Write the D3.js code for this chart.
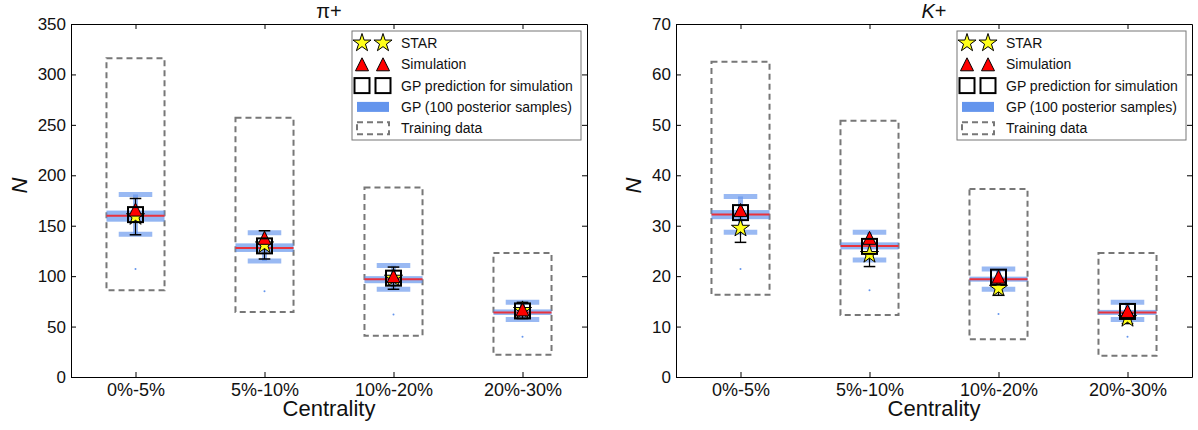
<!DOCTYPE html>
<html>
<head>
<meta charset="utf-8">
<script src="https://cdn.jsdelivr.net/npm/d3@7"></script>
<style>
  html, body { margin: 0; padding: 0; background: #fff; }
  svg { display: block; font-family: "Liberation Sans", Arial, sans-serif; }
</style>
</head>
<body>
<svg id="chart" width="1198" height="430"></svg>
<script>
// Centrality classes shared by both panels
const categories = ["0%-5%", "5%-10%", "10%-20%", "20%-30%"];

// pi+ yields
const piStar      = [159, 131, 98, 66];
const piStarErr   = [18, 14, 11, 8];
const piSim       = [166, 138, 100, 67];
const piPred      = [161, 130, 98, 65.5];
const piGPMean    = [160, 128, 97, 64];
const piGPBandLo  = [154, 124, 93, 61.5];
const piGPBandHi  = [165, 132.5, 100, 67];
const piGPLo      = [141.5, 115, 87, 57];
const piGPHi      = [181, 143, 110.5, 74];
const piTrainLo   = [86, 64.5, 41, 22];
const piTrainHi   = [316, 257, 188, 123];
const piDot       = [107, 85, 62, 40];
const piTicks     = [0, 50, 100, 150, 200, 250, 300, 350];

// K+ yields
const kStar       = [29.5, 24.3, 17.6, 11.6];
const kStarErr    = [2.8, 2.4, 1.4, 1.0];
const kSim        = [33.1, 27.6, 19.9, 13.1];
const kPred       = [32.6, 25.9, 19.8, 13.0];
const kGPMean     = [32.2, 26.0, 19.4, 12.8];
const kGPBandLo   = [31.3, 25.3, 18.9, 12.3];
const kGPBandHi   = [33.1, 26.7, 19.9, 13.3];
const kGPLo       = [28.7, 23.2, 17.4, 11.4];
const kGPHi       = [35.8, 28.7, 21.4, 14.8];
const kTrainLo    = [16.3, 12.3, 7.5, 4.2];
const kTrainHi    = [62.5, 50.8, 37.3, 24.6];
const kDot        = [21.4, 17.2, 12.5, 8.0];
const kTicks      = [0, 10, 20, 30, 40, 50, 60, 70];

const legendLabels = ["STAR", "Simulation", "GP prediction for simulation",
                      "GP (100 posterior samples)", "Training data"];

const BLUE = "#6495ED";
const RED = "#e8323c";
const svg = d3.select("#chart");

function starPath(r) {
  const inner = r * 0.381966;
  const pts = [];
  for (let i = 0; i < 10; i++) {
    const rad = i % 2 === 0 ? r : inner;
    const a = -Math.PI / 2 + i * Math.PI / 5;
    pts.push([rad * Math.cos(a), rad * Math.sin(a)]);
  }
  return "M" + pts.map(p => p[0].toFixed(2) + "," + p[1].toFixed(2)).join("L") + "Z";
}
function triPath(s) {
  return `M0,${-s}L${-s},${s}L${s},${s}Z`;
}

function drawStar(g, x, y) {
  g.append("path").attr("d", starPath(9.5)).attr("transform", `translate(${x},${y})`)
    .attr("fill", "#ffff1a").attr("stroke", "#000").attr("stroke-width", 1);
}
function drawTri(g, x, y) {
  g.append("path").attr("d", triPath(6.5)).attr("transform", `translate(${x},${y})`)
    .attr("fill", "#ff0000").attr("stroke", "#000").attr("stroke-width", 1);
}
function drawSquare(g, x, y) {
  g.append("rect").attr("x", x - 7.5).attr("y", y - 7.5).attr("width", 15).attr("height", 15)
    .attr("fill", "none").attr("stroke", "#000").attr("stroke-width", 2);
}

function panel(opt) {
  const g = svg.append("g").attr("transform", `translate(${opt.left},${opt.top})`);
  const W = opt.width, H = opt.height;
  const x = d3.scaleLinear().domain([-0.5, categories.length - 0.5]).range([0, W]);
  const y = d3.scaleLinear().domain(opt.domain).range([H, 0]);
  const bw = 0.225;   // half width of training box in category units
  const cap = 0.13;   // half width of the GP spread caps
  const scap = 0.045; // half width of the STAR error caps

  // training data ranges
  g.selectAll(".train").data(categories).join("rect")
    .attr("x", (d, i) => x(i - bw)).attr("width", x(2 * bw) - x(0))
    .attr("y", (d, i) => y(opt.trainHi[i]))
    .attr("height", (d, i) => y(opt.trainLo[i]) - y(opt.trainHi[i]))
    .attr("fill", "none").attr("stroke", "#777").attr("stroke-width", 2)
    .attr("stroke-dasharray", "6,4");

  // GP posterior spread
  categories.forEach((c, i) => {
    g.append("rect").attr("x", x(i - bw)).attr("width", x(2 * bw) - x(0))
      .attr("y", y(opt.bandHi[i])).attr("height", y(opt.bandLo[i]) - y(opt.bandHi[i]))
      .attr("fill", BLUE).attr("opacity", 0.7);
    g.append("line").attr("x1", x(i)).attr("x2", x(i))
      .attr("y1", y(opt.gpHi[i])).attr("y2", y(opt.gpLo[i]))
      .attr("stroke", BLUE).attr("stroke-width", 5).attr("opacity", 0.65);
    [opt.gpHi[i], opt.gpLo[i]].forEach(v => {
      g.append("line").attr("x1", x(i - cap)).attr("x2", x(i + cap))
        .attr("y1", y(v)).attr("y2", y(v))
        .attr("stroke", BLUE).attr("stroke-width", 5).attr("opacity", 0.65);
    });
    g.append("line").attr("x1", x(i - bw)).attr("x2", x(i + bw))
      .attr("y1", y(opt.mean[i])).attr("y2", y(opt.mean[i]))
      .attr("stroke", RED).attr("stroke-width", 2);
    g.append("circle").attr("cx", x(i)).attr("cy", y(opt.dot[i])).attr("r", 1)
      .attr("fill", BLUE);
  });

  // STAR error bars
  categories.forEach((c, i) => {
    const lo = opt.star[i] - opt.starErr[i], hi = opt.star[i] + opt.starErr[i];
    g.append("line").attr("x1", x(i)).attr("x2", x(i)).attr("y1", y(hi)).attr("y2", y(lo))
      .attr("stroke", "#000").attr("stroke-width", 1.2);
    [lo, hi].forEach(v => g.append("line").attr("x1", x(i - scap)).attr("x2", x(i + scap))
      .attr("y1", y(v)).attr("y2", y(v)).attr("stroke", "#000").attr("stroke-width", 1.5));
  });

  // markers
  categories.forEach((c, i) => drawStar(g, x(i), y(opt.star[i])));
  categories.forEach((c, i) => drawTri(g, x(i), y(opt.sim[i])));
  categories.forEach((c, i) => drawSquare(g, x(i), y(opt.pred[i])));

  // axes
  const ya = g.append("g").call(d3.axisLeft(y).tickValues(opt.ticks)
    .tickSizeInner(-5).tickSizeOuter(0).tickPadding(5));
  const yr = g.append("g").attr("transform", `translate(${W},0)`).call(d3.axisRight(y)
    .tickValues(opt.ticks).tickSizeInner(-5).tickSizeOuter(0).tickFormat(""));
  const xa = g.append("g").attr("transform", `translate(0,${H})`).call(d3.axisBottom(x)
    .tickValues(d3.range(categories.length)).tickFormat(i => categories[i])
    .tickSizeInner(-5).tickSizeOuter(0).tickPadding(6));
  const xt = g.append("g").call(d3.axisTop(x)
    .tickValues(d3.range(categories.length)).tickFormat("")
    .tickSizeInner(-5).tickSizeOuter(0));
  [ya, yr, xa, xt].forEach(a => {
    a.selectAll("text").attr("font-size", "17px").attr("fill", "#111")
      .attr("font-family", '"Liberation Sans", Arial, sans-serif');
    a.selectAll("line").attr("stroke", "#000");
    a.select(".domain").attr("stroke", "#000");
  });
  xa.selectAll("text").attr("font-size", "18px");

  // titles
  g.append("text").attr("x", W / 2).attr("y", -6).attr("text-anchor", "middle")
    .attr("font-size", "20px").attr("fill", "#111").html(opt.title);
  g.append("text").attr("x", W / 2).attr("y", H + 39).attr("text-anchor", "middle")
    .attr("font-size", "22px").attr("fill", "#111").text("Centrality");
  g.append("text").attr("transform", `translate(${opt.ylabelX},${H / 2 - 15}) rotate(-90)`)
    .attr("text-anchor", "middle").attr("font-size", "22px").attr("font-style", "italic")
    .attr("fill", "#111").attr("dy", "0.35em").text("N");

  // legend
  const lg = g.append("g").attr("transform", `translate(${W - 235},7)`);
  lg.append("rect").attr("width", 229).attr("height", 109).attr("fill", "#fff")
    .attr("stroke", "#777").attr("stroke-width", 1);
  const rowY = i => 12 + i * 21.3;
  [10, 31].forEach(mx => {
    drawStar(lg, mx, rowY(0));
    drawTri(lg, mx, rowY(1));
    drawSquare(lg, mx, rowY(2));
  });
  lg.append("rect").attr("x", 5).attr("width", 32).attr("y", rowY(3) - 5).attr("height", 10)
    .attr("fill", BLUE);
  lg.append("rect").attr("x", 5).attr("width", 32).attr("y", rowY(4) - 6).attr("height", 12)
    .attr("fill", "none").attr("stroke", "#777").attr("stroke-width", 2)
    .attr("stroke-dasharray", "6,4");
  legendLabels.forEach((t, i) => {
    lg.append("text").attr("x", 49).attr("y", rowY(i)).attr("dy", "0.35em")
      .attr("font-size", "14px").attr("fill", "#111").text(t);
  });
}

panel({
  left: 71, top: 24, width: 516, height: 353, domain: [0, 350], ticks: piTicks,
  title: "π+", ylabelX: -52,
  star: piStar, starErr: piStarErr, sim: piSim, pred: piPred, mean: piGPMean,
  bandLo: piGPBandLo, bandHi: piGPBandHi, gpLo: piGPLo, gpHi: piGPHi,
  trainLo: piTrainLo, trainHi: piTrainHi, dot: piDot
});
panel({
  left: 676, top: 24, width: 516, height: 353, domain: [0, 70], ticks: kTicks,
  title: "<tspan font-style='italic'>K</tspan>+", ylabelX: -43,
  star: kStar, starErr: kStarErr, sim: kSim, pred: kPred, mean: kGPMean,
  bandLo: kGPBandLo, bandHi: kGPBandHi, gpLo: kGPLo, gpHi: kGPHi,
  trainLo: kTrainLo, trainHi: kTrainHi, dot: kDot
});
</script>
</body>
</html>
